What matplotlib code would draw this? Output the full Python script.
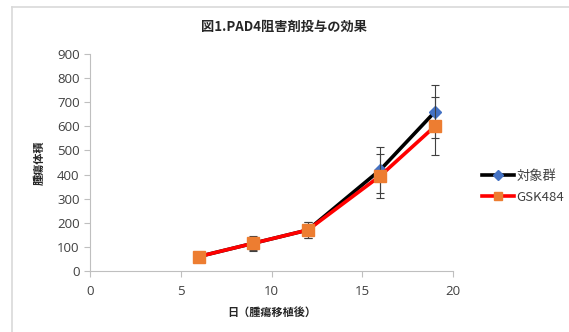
import matplotlib.pyplot as plt
from matplotlib.lines import Line2D

plt.rcParams['font.family'] = ['Open Sans', 'Noto Sans CJK JP', 'DejaVu Sans']

days = [6, 9, 12, 16, 19]
control = [60, 115, 170, 420, 660]
control_err = [0, 30, 35, 95, 110]
gsk = [60, 115, 170, 395, 600]
gsk_err = [0, 28, 32, 92, 120]

labels = ["対象群", "GSK484"]
title = "図1.PAD4阻害剤投与の効果"
xlabel = "日（腫瘍移植後）"
ylabel = "腫瘍体積"

fig = plt.figure(figsize=(5.69, 3.32), dpi=100)
ax = fig.add_axes([90/569, 1 - 271/332, 363/569, 217/332])

ax.errorbar(days, control, yerr=control_err, color="black", linewidth=2.6,
            marker="D", markersize=6, markerfacecolor="#4472c4", markeredgecolor="#4472c4",
            ecolor="#404040", elinewidth=0.8, capsize=3, capthick=0.8, zorder=3)
ax.errorbar(days, gsk, yerr=gsk_err, color="#ff0000", linewidth=2.6,
            marker="s", markersize=8, markerfacecolor="#ed7d31", markeredgecolor="#ed7d31",
            ecolor="#404040", elinewidth=0.8, capsize=3, capthick=0.8, zorder=4)

ax.set_xlim(0, 20)
ax.set_ylim(0, 900)
ax.set_xticks(range(0, 21, 5))
ax.set_yticks(range(0, 901, 100))
for s in ['top', 'right']:
    ax.spines[s].set_visible(False)
for s in ['left', 'bottom']:
    ax.spines[s].set_color("#bfbfbf")
    ax.spines[s].set_linewidth(0.8)
ax.tick_params(colors="#bfbfbf", labelcolor="#404040", labelsize=9.5, length=4, width=0.8)
ax.tick_params(axis='x', pad=6)

ax.set_xlabel(xlabel, fontsize=8, fontweight="bold", color="#262626",
              family=['Noto Sans CJK JP', 'DejaVu Sans'], labelpad=6)
ax.set_ylabel(ylabel, fontsize=8, fontweight="bold", color="#262626",
              family=['Noto Sans CJK JP', 'DejaVu Sans'], labelpad=8)
fig.text(0.5, 1 - 27/332, title, ha="center", va="center", fontsize=9.5, fontweight="bold",
         color="#262626", family=['Noto Sans CJK JP', 'DejaVu Sans'])

handles = [
    Line2D([], [], color="black", linewidth=2.6, marker="D", markersize=5,
           markerfacecolor="#4472c4", markeredgecolor="#4472c4"),
    Line2D([], [], color="#ff0000", linewidth=2.6, marker="s", markersize=6,
           markerfacecolor="#ed7d31", markeredgecolor="#ed7d31"),
]
leg = fig.legend(handles, labels, loc="center left", bbox_to_anchor=(470/569, 1 - 187/332),
                 frameon=False, handlelength=2.4, handletextpad=0.2,
                 labelspacing=0.6, prop={'family': ['Noto Sans CJK JP', 'DejaVu Sans'], 'size': 9.5})
for t in leg.get_texts():
    t.set_color("#404040")

# chart border (top and left edges visible)
fig.add_artist(Line2D([12/569, 12/569], [0, 1 - 7/332], transform=fig.transFigure,
                      color="#d9d9d9", linewidth=1.2))
fig.add_artist(Line2D([12/569, 1], [1 - 7/332, 1 - 7/332], transform=fig.transFigure,
                      color="#d9d9d9", linewidth=1.2))

fig.savefig("out.png", dpi=100)
